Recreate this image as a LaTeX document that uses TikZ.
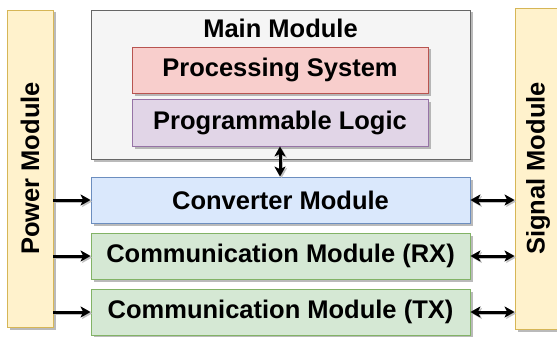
\documentclass[tikz,border=0pt]{standalone}
\usepackage{fontspec}
\setmainfont{Liberation Sans}
\usepackage{tikz}
\usetikzlibrary{shapes.geometric, arrows.meta}
\usetikzlibrary{shadows}
\usetikzlibrary{calc}
\definecolor{yelfill}{HTML}{FFF2CC}
\definecolor{yeldraw}{HTML}{D6B656}
\definecolor{redfill}{HTML}{F8CECC}
\definecolor{reddraw}{HTML}{B85450}
\definecolor{purfill}{HTML}{E1D5E7}
\definecolor{purdraw}{HTML}{9673A6}
\definecolor{blufill}{HTML}{DAE8FC}
\definecolor{bludraw}{HTML}{6C8EBF}
\definecolor{grnfill}{HTML}{D5E8D4}
\definecolor{grndraw}{HTML}{82B366}
\definecolor{gryfill}{HTML}{F5F5F5}
\definecolor{grydraw}{HTML}{666666}
\tikzstyle{arrowline} = [line width=3pt,>={Stealth[length=10pt,width=11pt,inset=2.5pt]},
  preaction={draw=black!25, line width=3pt, transform canvas={xshift=1.5pt,yshift=-1.5pt}}]
\tikzstyle{arrow} = [arrowline,->]
\tikzstyle{darrow} = [arrowline,<->]
\tikzstyle{bigtext} = [font=\fontsize{25.5}{30}\selectfont\bfseries]
\tikzstyle{module} = [rectangle, line width=0.8pt, inner sep=0pt, bigtext,
  drop shadow={shadow xshift=2.5pt, shadow yshift=-2.5pt, fill=black!45, opacity=0.6}]

\begin{document}
\begin{tikzpicture}[x=1pt,y=-1pt]
\useasboundingbox (0,0) rectangle (557,337);

% side modules
\node[module, fill=yelfill, draw=yeldraw, minimum width=46pt, minimum height=317pt] (power) at (30,168.5) {};
\node[rotate=90, bigtext] (powertxt) at (power.center) {Power Module};
\node[module, fill=yelfill, draw=yeldraw, minimum width=46pt, minimum height=321pt] (signal) at (538,168.5) {};
\node[rotate=90, bigtext] (signaltxt) at (signal.center) {Signal Module};

% main module
\node[module, fill=gryfill, draw=grydraw, minimum width=379pt, minimum height=149pt] (main) at (280.5,84.5) {};
\node[bigtext] (maintxt) at (280.5,28) {Main Module};
\node[module, fill=redfill, draw=reddraw, minimum width=296pt, minimum height=46pt] (proc) at (280,70) {Processing System};
\node[module, fill=purfill, draw=purdraw, minimum width=296pt, minimum height=47pt] (pl) at (280,122.5) {Programmable Logic};

% lower modules
\node[module, fill=blufill, draw=bludraw, minimum width=379pt, minimum height=46pt] (conv) at (280.5,200) {Converter Module};
\node[module, fill=grnfill, draw=grndraw, minimum width=379pt, minimum height=46pt] (rx) at (280.5,256) {Communication Module (RX)};
\node[module, fill=grnfill, draw=grndraw, minimum width=379pt, minimum height=46pt] (tx) at (280.5,312) {Communication Module (TX)};

% connections
\draw[darrow] (pl.south -| 280,0) -- (conv.north -| 280,0);
\foreach \m in {conv,rx,tx}{
	\draw[arrow] (power.east |- \m.west) -- (\m.west);
	\draw[darrow] (\m.east) -- (signal.west |- \m.east);
}
\end{tikzpicture}
\end{document}
